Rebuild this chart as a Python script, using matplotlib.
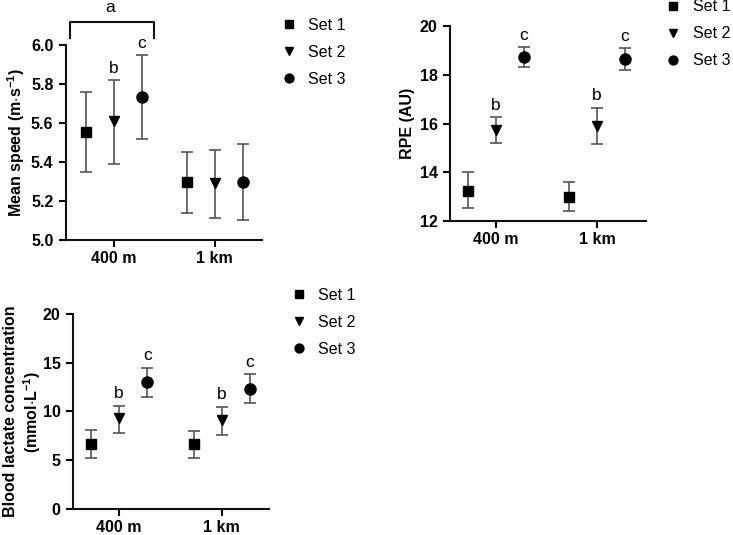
import matplotlib
matplotlib.use("Agg")
import matplotlib.pyplot as plt

plt.rcParams['font.family'] = ['Liberation Sans', 'DejaVu Sans']
plt.rcParams['mathtext.fontset'] = 'custom'
plt.rcParams['mathtext.rm'] = 'Liberation Sans:bold'
plt.rcParams['mathtext.default'] = 'rm'

distances = ['400 m', '1 km']
sets = ['Set 1', 'Set 2', 'Set 3']
markers = ['s', 'v', 'o']
msizes = [7.5, 7, 8]

# mean, lower, upper for each set, per distance
speed_mean = [[5.555, 5.295], [5.61, 5.29], [5.735, 5.295]]
speed_lo = [[5.35, 5.14], [5.39, 5.115], [5.52, 5.105]]
speed_hi = [[5.76, 5.45], [5.82, 5.46], [5.95, 5.49]]

rpe_mean = [[13.25, 13.0], [15.75, 15.9], [18.72, 18.65]]
rpe_lo = [[12.55, 12.4], [15.2, 15.15], [18.3, 18.2]]
rpe_hi = [[14.0, 13.6], [16.25, 16.65], [19.15, 19.1]]

lac_mean = [[6.65, 6.65], [9.3, 9.1], [13.0, 12.35]]
lac_lo = [[5.25, 5.25], [7.8, 7.6], [11.45, 10.85]]
lac_hi = [[8.1, 8.0], [10.6, 10.5], [14.5, 13.8]]

# significance letters per set per distance
speed_letters = [['', ''], ['b', ''], ['c', '']]
rpe_letters = [['', ''], ['b', 'b'], ['c', 'c']]
lac_letters = [['', ''], ['b', 'b'], ['c', 'c']]

offsets = [-0.275, 0.0, 0.275]

fig = plt.figure(figsize=(7.33, 5.35), dpi=100)


def panel(rect, mean, lo, hi, letters, ylim, yticks, yfmt, ylabel, xlim, leg_anchor):
    ax = fig.add_axes(rect)
    handles = []
    for i in range(3):
        xs = [d + offsets[i] for d in range(len(distances))]
        err = [[m - l for m, l in zip(mean[i], lo[i])],
               [h - m for m, h in zip(mean[i], hi[i])]]
        ax.errorbar(xs, mean[i], yerr=err, fmt='none', ecolor='#555555',
                    elinewidth=1.2, capsize=4.5, capthick=1.2, zorder=2)
        h, = ax.plot(xs, mean[i], linestyle='none', marker=markers[i],
                     markersize=msizes[i], color='black', zorder=3)
        handles.append(h)
        for j, x in enumerate(xs):
            if letters[i][j]:
                ax.annotate(letters[i][j], (x, hi[i][j]), xytext=(0, 3),
                            textcoords='offset points', ha='center', va='bottom',
                            fontsize=12.5, annotation_clip=False)
    ax.set_xlim(*xlim)
    ax.set_ylim(*ylim)
    ax.set_yticks(yticks)
    ax.set_yticklabels([yfmt.format(t) for t in yticks], fontweight='bold', fontsize=11.5)
    ax.set_xticks(range(len(distances)))
    ax.set_xticklabels(distances, fontweight='bold', fontsize=11.5)
    for s in ['top', 'right']:
        ax.spines[s].set_visible(False)
    for s in ['left', 'bottom']:
        ax.spines[s].set_linewidth(1.5)
        ax.spines[s].set_color('#111111')
    ax.tick_params(direction='out', length=5, width=1.5, pad=4)
    ax.tick_params(axis='x', pad=3)
    ax.set_ylabel(ylabel, fontweight='bold', fontsize=11.5)
    fig.legend(handles, sets, loc='center left', bbox_to_anchor=leg_anchor,
               frameon=False, fontsize=11.5, handletextpad=0.7, labelspacing=0.75,
               handlelength=1.0, borderaxespad=0, markerscale=0.8)
    return ax


ax1 = panel([0.090, 0.5514, 0.267, 0.3645], speed_mean, speed_lo, speed_hi,
            speed_letters, (5.0, 6.0), [5.0, 5.2, 5.4, 5.6, 5.8, 6.0], '{:.1f}',
            'Mean speed (m$\\cdot$s$^{-1}$)', (-0.475, 1.465), (0.374, 0.902))
ax1.yaxis.set_label_coords(-0.20, 0.5)

# bracket over 400 m group
ax1.plot([-0.44, -0.44, 0.40, 0.40], [6.036, 6.118, 6.118, 6.036], color='#111111',
         lw=1.5, clip_on=False)
ax1.text(-0.04, 6.19, 'a', ha='center', va='center', fontsize=12.5)

ax2 = panel([0.614, 0.5869, 0.267, 0.3645], rpe_mean, rpe_lo, rpe_hi,
            rpe_letters, (12, 20), [12, 14, 16, 18, 20], '{:d}',
            'RPE (AU)', (-0.45, 1.48), (0.899, 0.937))
ax2.yaxis.set_label_coords(-0.18, 0.5)

ax3 = panel([0.0996, 0.0486, 0.267, 0.3645], lac_mean, lac_lo, lac_hi,
            lac_letters, (0, 20), [0, 5, 10, 15, 20], '{:d}',
            'Blood lactate concentration\n(mmol$\\cdot$L$^{-1}$)', (-0.447, 1.456),
            (0.388, 0.398))
ax3.yaxis.set_label_coords(-0.152, 0.5)

fig.savefig('out.png', dpi=100)
